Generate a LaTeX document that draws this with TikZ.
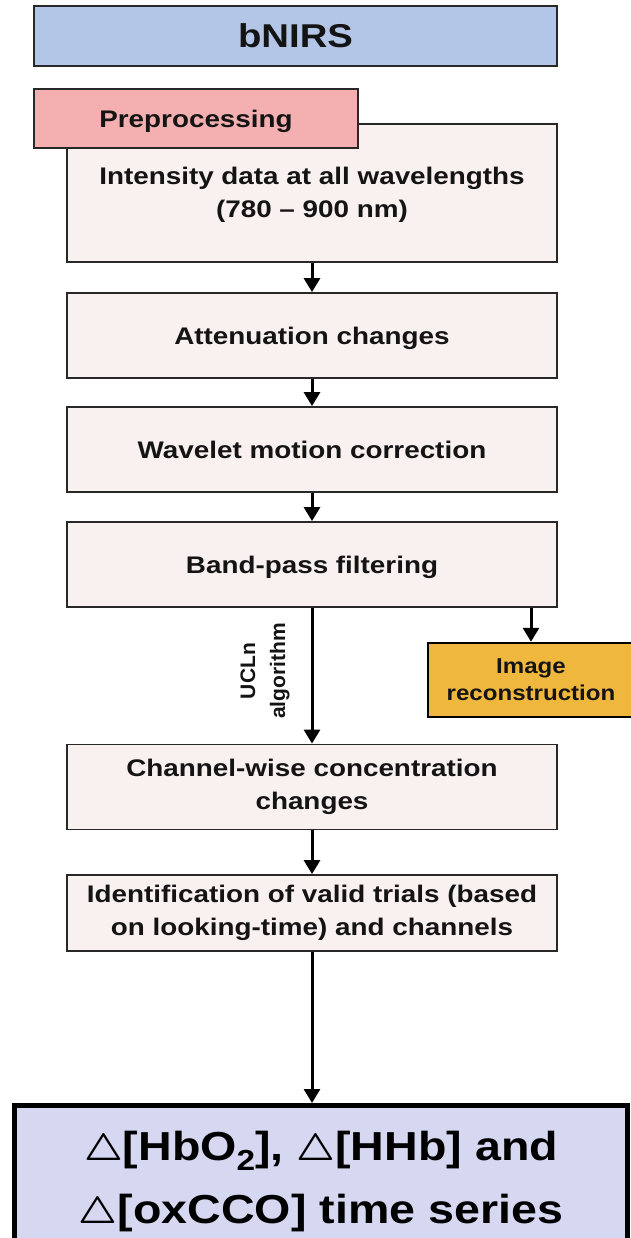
\documentclass[tikz,border=0pt]{standalone}
\usepackage{fontspec}
\usepackage{graphicx}
\usepackage{bm}
\usetikzlibrary{arrows.meta}
\newfontfamily\bxfont[FakeStretch=1.16]{Liberation Sans Bold}
\newfontfamily\imgfont[FakeStretch=1.12]{Liberation Sans Bold}
\newfontfamily\lblfont{Liberation Sans Bold}
\newfontfamily\outfont[FakeStretch=1.15]{Liberation Sans Bold}
\newcommand\dtri{{\fontsize{10}{10}\selectfont\scalebox{3.8}{$\bm{\triangle}$}}}
\definecolor{bnirsc}{RGB}{180,198,231}
\definecolor{prepc}{RGB}{244,176,176}
\definecolor{boxfill}{RGB}{249,240,240}
\definecolor{imgc}{RGB}{240,183,62}
\definecolor{outc}{RGB}{214,216,242}
\definecolor{linec}{RGB}{40,40,40}
\definecolor{txt}{RGB}{20,20,20}
\tikzset{
  basebox/.style={draw=linec, line width=1.8pt, inner sep=0pt, align=center, text=txt},
  headbox/.style={basebox, fill=bnirsc, minimum width=523pt, minimum height=60pt,
    font=\bxfont\fontsize{33}{36}\selectfont},
  prepbox/.style={basebox, fill=prepc, minimum width=324pt, minimum height=59pt,
    font=\bxfont\fontsize{24}{33}\selectfont},
  stepbox/.style={basebox, fill=boxfill, minimum width=490pt, minimum height=85pt,
    font=\bxfont\fontsize{24}{33}\selectfont},
  onebox/.style={stepbox, text depth=0pt},
  imgbox/.style={basebox, draw=black, line width=2.5pt, fill=imgc, minimum width=206pt,
    minimum height=74pt, font=\imgfont\fontsize{21.5}{27}\selectfont},
  outbox/.style={draw=black, line width=5pt, fill=outc, minimum width=613pt,
    minimum height=155pt, inner sep=0pt},
  outtext/.style={inner sep=0pt, align=center, text=black,
    font=\outfont\fontsize{40.5}{63}\selectfont},
  lbl/.style={inner sep=0pt, align=center, text=txt, font=\lblfont\fontsize{21}{30}\selectfont},
  arr/.style={draw=black, line width=3pt, -{Triangle[width=16pt,length=14pt]}},
}
\begin{document}
\begin{tikzpicture}[x=1pt,y=-1pt]
\useasboundingbox[fill=white] (0,0) rectangle (631,1238);
\node[headbox] (bnirs) at (295.5,36) {bNIRS};
\node[stepbox, minimum height=138pt] (int) at (312,193) {\rule{0pt}{20pt}Intensity data at all wavelengths\\(780 – 900 nm)};
\node[prepbox, text depth=0pt] (prep) at (196,118.5) {Preprocessing};
\node[onebox] (att) at (312,335.5) {Attenuation changes};
\node[onebox] (wav) at (312,449.5) {Wavelet motion correction};
\node[onebox] (band) at (312,564.5) {Band-pass filtering};
\node[imgbox] (img) at (531,680) {Image\\reconstruction};
\node[stepbox] (chan) at (312,787) {Channel-wise concentration\\changes};
\node[stepbox, minimum height=76pt] (ident) at (312,913) {Identification of valid trials (based\\on looking-time) and channels};
\node[outbox] (out) at (321,1183) {};
\node[outtext] (outtxt) at (321,1182) {\dtri[HbO\raisebox{-10pt}{\fontsize{29}{29}\selectfont 2}], \dtri[HHb] and\\\dtri[oxCCO] time series};
\node[lbl, rotate=90] (ucl) at (265,671) {UCLn\\algorithm};
\draw[arr] (int.south) -- (att.north);
\draw[arr] (att.south) -- (wav.north);
\draw[arr] (wav.south) -- (band.north);
\draw[arr] (band.south) -- (chan.north);
\draw[arr] (img.north |- band.south) -- (img.north);
\draw[arr] (chan.south) -- (ident.north);
\draw[arr] (ident.south) -- (ident.south |- out.north);
\end{tikzpicture}
\end{document}
